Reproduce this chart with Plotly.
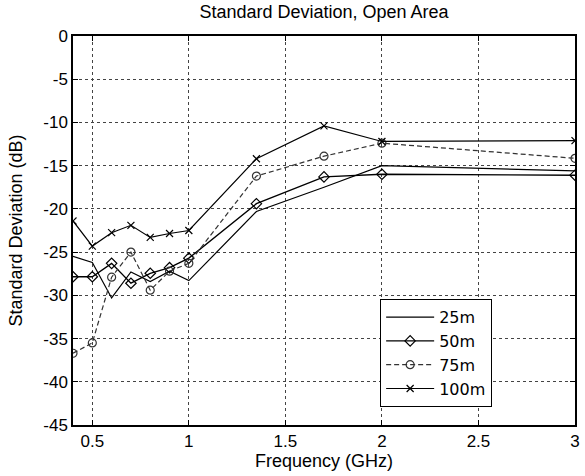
import plotly.graph_objects as go

# Frequency points (GHz) and standard deviation (dB) per distance
freq_ghz = [0.4, 0.5, 0.6, 0.7, 0.8, 0.9, 1.0, 1.35, 1.7, 2.0, 3.0]
sd_25m = [-25.5, -26.2, -30.3, -27.3, -28.4, -27.2, -28.3, -20.3, -17.5, -15.0, -15.6]
sd_50m = [-27.85, -27.85, -26.3, -28.6, -27.45, -26.8, -25.7, -19.4, -16.3, -16.0, -16.1]
sd_75m = [-36.7, -35.5, -27.9, -25.0, -29.4, -27.2, -26.3, -16.2, -13.9, -12.4, -14.15]
sd_100m = [-21.4, -24.3, -22.75, -21.9, -23.3, -22.85, -22.5, -14.2, -10.4, -12.2, -12.1]

x_tick_vals = [0.5, 1.0, 1.5, 2.0, 2.5, 3.0]
x_tick_text = ["0.5", "1", "1.5", "2", "2.5", "3"]
y_tick_vals = [0, -5, -10, -15, -20, -25, -30, -35, -40, -45]
y_tick_text = ["0", "-5", "-10", "-15", "-20", "-25", "-30", "-35", "-40", "-45"]

FONT = "Liberation Sans, Arial, sans-serif"
LEGEND_FONT = "DejaVu Sans, Liberation Sans, sans-serif"

fig = go.Figure()

fig.add_trace(go.Scatter(
    x=freq_ghz, y=sd_25m, name="25m", mode="lines",
    line=dict(color="black", width=1.2),
))
fig.add_trace(go.Scatter(
    x=freq_ghz, y=sd_50m, name="50m", mode="lines+markers",
    line=dict(color="black", width=1.4),
    marker=dict(symbol="diamond-open", size=8, color="black", line=dict(width=1.2)),
))
fig.add_trace(go.Scatter(
    x=freq_ghz, y=sd_75m, name="75m", mode="lines+markers",
    line=dict(color="#333333", width=1.2, dash="5px,3px"),
    marker=dict(symbol="circle-open", size=8, color="#333333", line=dict(width=1.2)),
))
fig.add_trace(go.Scatter(
    x=freq_ghz, y=sd_100m, name="100m", mode="lines+markers",
    line=dict(color="black", width=1.2),
    marker=dict(symbol="x-thin-open", size=7, color="black", line=dict(width=1.2)),
))

axis_common = dict(
    showline=True, linecolor="black", linewidth=1.5, mirror="ticks",
    ticks="inside", ticklen=5, tickcolor="black", tickwidth=1,
    showgrid=True, gridcolor="#444444", gridwidth=1, griddash="dot",
    zeroline=False, tickfont=dict(family=FONT, size=17, color="black"),
)

fig.update_layout(
    width=585, height=476,
    paper_bgcolor="white", plot_bgcolor="white",
    margin=dict(l=73, r=5, t=36, b=51),
    font=dict(family=FONT, color="black"),
    title=dict(
        text="Standard Deviation, Open Area",
        font=dict(family=FONT, size=18, color="black"),
        x=0.5, xref="paper", xanchor="center",
        y=1 - 12 / 476, yref="container", yanchor="middle",
    ),
    xaxis=dict(
        range=[0.4, 3.0], tickvals=x_tick_vals, ticktext=x_tick_text,
        title=dict(text="Frequency (GHz)", font=dict(family=FONT, size=18), standoff=2),
        **axis_common,
    ),
    yaxis=dict(
        range=[-45, 0], tickvals=y_tick_vals, ticktext=y_tick_text,
        title=dict(text="Standard Deviation (dB)", font=dict(family=FONT, size=18), standoff=16),
        **axis_common,
    ),
    legend=dict(
        x=(383 - 73) / 507, xanchor="left",
        y=(425 - 299) / 389, yanchor="top",
        bgcolor="white", bordercolor="black", borderwidth=1.2,
        font=dict(family=LEGEND_FONT, size=16, color="black"),
        tracegroupgap=0, itemwidth=48,
    ),
    showlegend=True,
)

fig.write_html("out.html")
